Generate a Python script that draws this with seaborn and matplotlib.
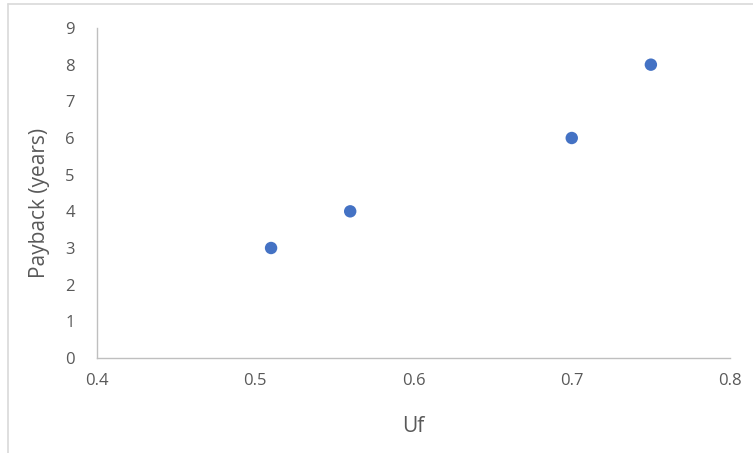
import matplotlib
matplotlib.use("Agg")
import matplotlib.pyplot as plt
from matplotlib.lines import Line2D
import seaborn as sns
import pandas as pd

# Fuel utilisation vs payback period
uf = [0.51, 0.56, 0.70, 0.75]
payback_years = [3, 4, 6, 8]
x_ticks = [0.4, 0.5, 0.6, 0.7, 0.8]
y_ticks = list(range(0, 10))

df = pd.DataFrame({"Uf": uf, "Payback (years)": payback_years})

sns.set_style("white")
plt.rcParams["font.family"] = ["Open Sans", "DejaVu Sans"]

W, H = 753, 453
fig = plt.figure(figsize=(W / 100, H / 100), dpi=100)
ax = fig.add_axes([97 / W, (H - 358) / H, (730 - 97) / W, (358 - 28) / H])

sns.scatterplot(data=df, x="Uf", y="Payback (years)", ax=ax,
                color="#4472C4", s=80, edgecolor="none", zorder=3)

ax.set_xlim(0.4, 0.8)
ax.set_ylim(0, 9)
ax.set_xticks(x_ticks)
ax.set_xticklabels([f"{v:.1f}" for v in x_ticks])
ax.set_yticks(y_ticks)
ax.tick_params(axis="both", length=0, labelsize=12, colors="#595959")
ax.tick_params(axis="x", pad=11)
ax.tick_params(axis="y", pad=16)

for side in ("top", "right"):
    ax.spines[side].set_visible(False)
for side in ("left", "bottom"):
    ax.spines[side].set_color("#BFBFBF")
    ax.spines[side].set_linewidth(1.0)

ax.set_xlabel("Uf", fontsize=15, color="#595959")
ax.set_ylabel("Payback (years)", fontsize=15, color="#595959")
ax.xaxis.set_label_coords(0.5, (358 - 416) / (358 - 28))
ax.yaxis.set_label_coords((50 - 97) / (730 - 97), (358 - 203) / (358 - 28))

# Chart frame (top and left edges)
fig.add_artist(Line2D([8 / W, 1.0], [1 - 4 / H, 1 - 4 / H],
                      transform=fig.transFigure, color="#D9D9D9", lw=1.2))
fig.add_artist(Line2D([8 / W, 8 / W], [0.0, 1 - 4 / H],
                      transform=fig.transFigure, color="#D9D9D9", lw=1.2))

fig.savefig("out.png", dpi=100)
